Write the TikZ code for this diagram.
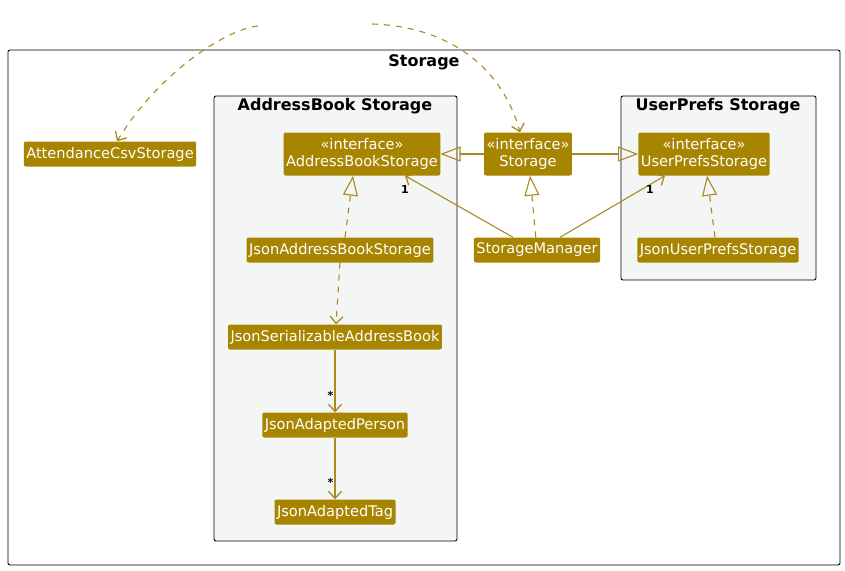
\documentclass[tikz,border=0pt]{standalone}
\usepackage{fontspec}
\setmainfont{DejaVu Sans}
\usetikzlibrary{
    arrows.meta,  % arrow tips
    positioning,  % better custom positioning
}
\definecolor{clsfill}{HTML}{A88500}
\definecolor{clsline}{HTML}{A88A1E}
\definecolor{pkgfill}{HTML}{F4F5F5}

\begin{document}
\begin{tikzpicture}[x=1pt, y=-1pt,
        cls/.style={fill=clsfill, text=white, rounded corners=2pt, inner xsep=2.5pt,
            minimum height=25pt, font=\fontsize{14.6}{16}\selectfont},
        iface/.style={cls, align=center, minimum height=43pt, font=\fontsize{14.6}{17}\selectfont},
        pkg/.style={draw=black, rounded corners=2pt, line width=0.9pt},
        pkgtitle/.style={font=\bfseries\fontsize{16}{18}\selectfont},
        rel/.style={draw=clsline, line width=1.1pt},
        impl/.style={rel, dash pattern=on 6pt off 6pt, -{Triangle[open, length=20pt, width=15pt]}},
        ext/.style={rel, -{Triangle[open, length=20pt, width=15pt]}},
        assoc/.style={rel, -{Straight Barb[length=7pt, width=13pt, line width=1.3pt]}},
        dep/.style={rel, dash pattern=on 6pt off 6pt, -{Straight Barb[length=7pt, width=13pt, line width=1.3pt]}},
        mult/.style={inner sep=1pt, font=\bfseries\fontsize{11}{12}\selectfont},
    ]
            \useasboundingbox (0, 0) rectangle (845, 570);

            % packages
            \draw[pkg] (8, 50) rectangle (840, 565);
            \node[pkgtitle] (tstorage) at (424, 62) {Storage};
            \draw[pkg, fill=pkgfill] (214, 96) rectangle (457, 541);
            \node[pkgtitle] (tab) at (335, 106) {AddressBook Storage};
            \draw[pkg, fill=pkgfill] (621, 96) rectangle (816, 280);
            \node[pkgtitle] (tup) at (718, 106) {UserPrefs Storage};

            % classes
            \node[cls] (acs) at (110, 154) {AttendanceCsvStorage};
            \node[iface] (abs) at (362, 154) {«interface»\\AddressBookStorage};
            \node[iface] (st) at (528, 154) {«interface»\\Storage};
            \node[iface] (ups) at (704, 154) {«interface»\\UserPrefsStorage};
            \node[cls] (jabs) at (340, 250) {JsonAddressBookStorage};
            \node[cls] (sm) at (537, 250) {StorageManager};
            \node[cls] (jups) at (718, 250) {JsonUserPrefsStorage};
            \node[cls] (jsab) at (335, 337) {JsonSerializableAddressBook};
            \node[cls] (jap) at (335, 425) {JsonAdaptedPerson};
            \node[cls] (jat) at (335, 512) {JsonAdaptedTag};

            \coordinate (c1) at (258, 26);
            \coordinate (c2) at (372, 24);

            % relations
            \draw[ext] (st) -- (abs);
            \draw[ext] (st) -- (ups);
            \draw[impl] ([xshift=5]jabs.north) -- ([xshift=-9]abs.south);
            \draw[impl] (sm) -- (st);
            \draw[impl] ([xshift=-3]jups.north) -- ([xshift=3]ups.south);
            \draw[assoc] ([xshift=-24]sm.north) -- ([xshift=43]abs.south)
                node[at end, mult, below=8pt] {1};
            \draw[assoc] ([xshift=23]sm.north) -- ([xshift=-39]ups.south)
                node[at end, mult, below=8pt, xshift=-15] {1};
            \draw[dep] (jabs.south) -- ([xshift=1]jsab.north);
            \draw[assoc] (jsab) -- node[pos=0.73, mult, left] {*} (jap);
            \draw[assoc] (jap) -- node[pos=0.73, mult, left] {*} (jat);
            \draw[dep] (c1) .. controls (222, 30) and (155, 78) .. ([xshift=7]acs.north);
            \draw[dep] (c2) .. controls (440, 26) and (500, 60) .. ([xshift=-8]st.north);
        \end{tikzpicture}
\end{document}
